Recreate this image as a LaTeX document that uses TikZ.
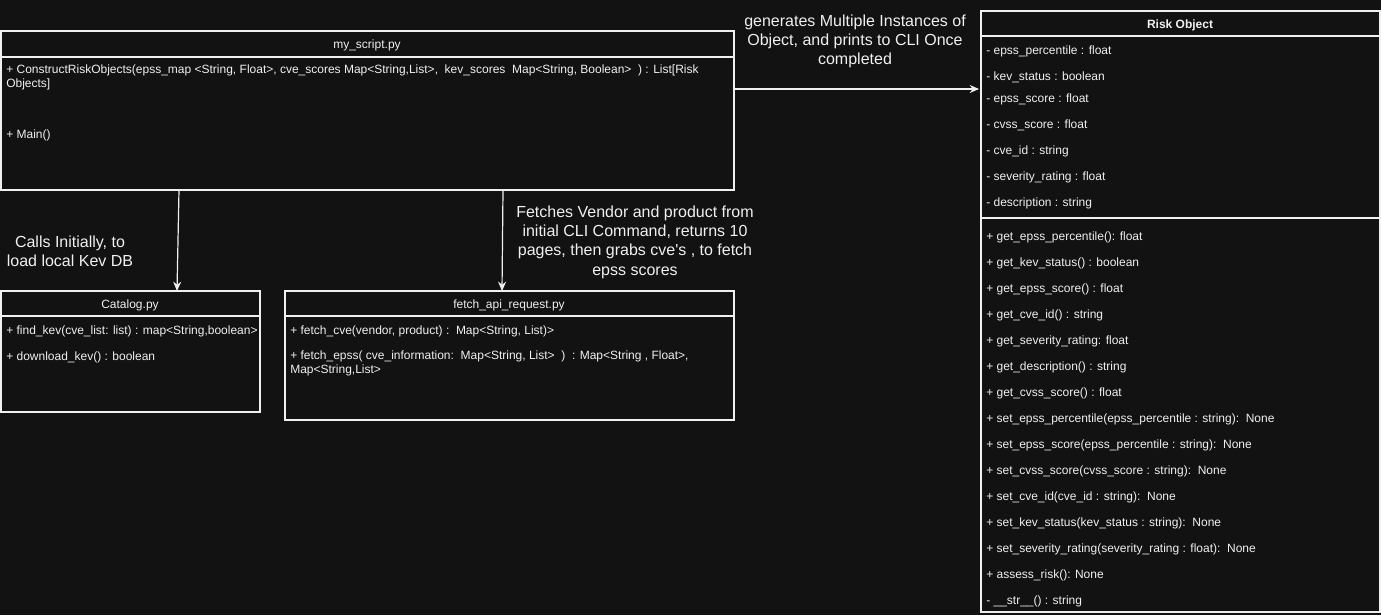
\documentclass[tikz,border=0pt]{standalone}
\usepackage{fontspec}
\setmainfont{Liberation Sans}
\usetikzlibrary{arrows.meta}
\definecolor{bgc}{RGB}{18,18,18}
\definecolor{fgc}{RGB}{240,240,240}
\tikzset{
  box/.style={draw=fgc, line width=0.9pt, fill=bgc, anchor=north west, inner sep=0pt, outer sep=0pt},
  sep/.style={draw=fgc, line width=0.9pt},
  txt/.style={text=fgc, font=\fontsize{9}{10.5}\selectfont, anchor=west, inner sep=0pt, text height=7pt, text depth=2pt, yshift=-1.5pt},
  ttl/.style={text=fgc, font=\fontsize{9}{10.5}\selectfont, anchor=center, inner sep=0pt, text height=7pt, text depth=2pt, yshift=-1.5pt},
  lbl/.style={text=fgc, font=\fontsize{12}{14.4}\selectfont, align=center, inner sep=0pt, yshift=-1.2pt},
  arr/.style={draw=fgc, line width=0.9pt, -{Stealth[length=7pt,width=6pt]}}
}
\begin{document}
\begin{tikzpicture}[x=0.75pt,y=-0.75pt]
\useasboundingbox[fill=bgc] (0,0) rectangle (1381,615);
% my_script
\node[box, minimum width=549.75pt, minimum height=119.25pt] (ms) at (1,31) {};
\draw[sep] (1,57) -- (734,57);
\node[ttl] (mst) at (367,43) {my\_script.py};
\node[txt, align=left, anchor=north west, text height=, text depth=] (ms1) at (6,63) {+ ConstructRiskObjects(epss\_map <String, Float>, cve\_scores Map<String,List>,\ \ kev\_scores\ \ Map<String, Boolean>\ \ ) : List[Risk\\Objects]};
\node[txt] (ms2) at (6,133) {+ Main()};
% Catalog
\node[box, minimum width=194.25pt, minimum height=90.75pt] (cat) at (1,291) {};
\draw[sep] (1,316) -- (260,316);
\node[ttl] (catt) at (130,303) {Catalog.py};
\node[txt] (cat1) at (6,329) {+ find\_kev(cve\_list: list) : map<String,boolean>};
\node[txt] (cat2) at (6,355) {+ download\_kev() : boolean};
% fetch
\node[box, minimum width=336.75pt, minimum height=96.75pt] (fe) at (285,291) {};
\draw[sep] (285,316) -- (734,316);
\node[ttl] (fet) at (509,303) {fetch\_api\_request.py};
\node[txt] (fe1) at (290,329) {+ fetch\_cve(vendor, product) :\ \ Map<String, List)>};
\node[txt, align=left, anchor=north west, text height=, text depth=] (fe2) at (290,349) {+ fetch\_epss( cve\_information:\ \ Map<String, List>\ \ )\ \ : Map<String , Float>,\\Map<String,List>};
% Risk Object
\node[box, minimum width=299.25pt, minimum height=450.75pt] (ro) at (981,11) {};
\draw[sep] (981,36) -- (1380,36);
\draw[sep] (981,218) -- (1380,218);
\node[ttl, font=\fontsize{9}{10.5}\selectfont\bfseries] (rot) at (1180,23) {Risk Object};
\node[txt] (a1) at (986,49) {- epss\_percentile : float};
\node[txt] (a2) at (986,75) {- kev\_status : boolean};
\node[txt] (a3) at (986,97) {- epss\_score : float};
\node[txt] (a4) at (986,123) {- cvss\_score : float};
\node[txt] (a5) at (986,149) {- cve\_id : string};
\node[txt] (a6) at (986,175) {- severity\_rating : float};
\node[txt] (a7) at (986,201) {- description : string};
\node[txt] (m1) at (986,235) {+ get\_epss\_percentile(): float};
\node[txt] (m2) at (986,261) {+ get\_kev\_status() : boolean};
\node[txt] (m3) at (986,287) {+ get\_epss\_score() : float};
\node[txt] (m4) at (986,313) {+ get\_cve\_id() : string};
\node[txt] (m5) at (986,339) {+ get\_severity\_rating: float};
\node[txt] (m6) at (986,365) {+ get\_description() : string};
\node[txt] (m7) at (986,391) {+ get\_cvss\_score() : float};
\node[txt] (m8) at (986,417) {+ set\_epss\_percentile(epss\_percentile : string):\ \ None};
\node[txt] (m9) at (986,443) {+ set\_epss\_score(epss\_percentile : string):\ \ None};
\node[txt] (m10) at (986,469) {+ set\_cvss\_score(cvss\_score : string):\ \ None};
\node[txt] (m11) at (986,495) {+ set\_cve\_id(cve\_id : string):\ \ None};
\node[txt] (m12) at (986,521) {+ set\_kev\_status(kev\_status : string):\ \ None};
\node[txt] (m13) at (986,547) {+ set\_severity\_rating(severity\_rating : float):\ \ None};
\node[txt] (m14) at (986,573) {+ assess\_risk(): None};
\node[txt] (m15) at (986,599) {- \_\_str\_\_() : string};
% connectors
\draw[arr] ([xshift=133.5pt]ms.south west) -- ([xshift=132pt]cat.north west);
\draw[arr] ([xshift=376.5pt]ms.south west) -- ([xshift=162.75pt]fe.north west);
\draw[arr] ([yshift=16.125pt]ms.east) -- ([yshift=166.875pt,xshift=-1.5pt]ro.west);
% labels
\node[lbl] (l1) at (70,250) {Calls Initially, to\\load local Kev DB};
\node[lbl] (l2) at (635,240.5) {Fetches Vendor and product from\\initial CLI Command, returns 10\\pages, then grabs cve\textquotesingle s , to fetch\\epss scores};
\node[lbl] (l3) at (855,40) {generates Multiple Instances of\\Object, and prints to CLI Once\\completed};
\end{tikzpicture}
\end{document}
